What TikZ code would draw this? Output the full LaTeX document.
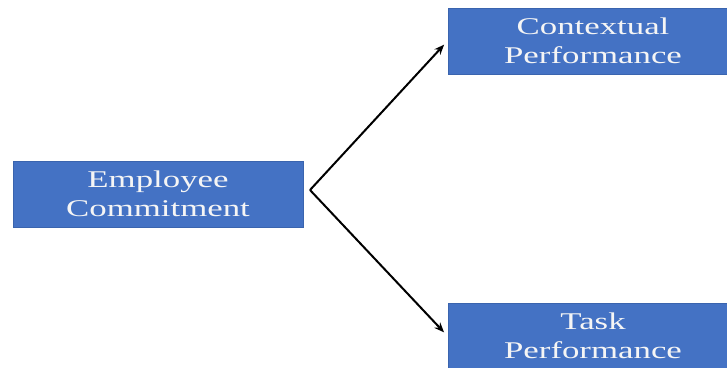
\documentclass[tikz,border=0pt]{standalone}
\usepackage{fontspec}
\usepackage{xcolor}
\usetikzlibrary{arrows.meta}
\newfontfamily\boxfont[FakeStretch=1.45]{Liberation Serif}
\definecolor{boxblue}{HTML}{4472C4}
\definecolor{boxedge}{HTML}{3A64AE}
\tikzset{
	box/.style = {draw = boxedge, line width = 1pt, fill = boxblue, minimum width = 290pt, minimum height = 66pt,
		inner sep = 0pt, align = center, text = white!92!gray, font = \boxfont\fontsize{24}{29}\selectfont},
	link/.style = {line width = 2pt, -{Stealth[length = 10pt, width = 8pt]}, shorten > = 5pt}
}

\begin{document}
\begin{tikzpicture}[x = 1pt, y = -1pt]
		\useasboundingbox (0,0) rectangle (727,367);
		
		\node [box] (emp) at (158,194) {Employee\\Commitment};
		\node [box] (ctx) at (593,41) {Contextual\\Performance};
		\node [box] (task) at (593,336) {Task\\Performance};
		
		\coordinate (fork) at (310,190);
		
		\draw [link] (fork) -- (ctx.west);
		\draw [link] (fork) -- (task.west);
	\end{tikzpicture}
\end{document}
